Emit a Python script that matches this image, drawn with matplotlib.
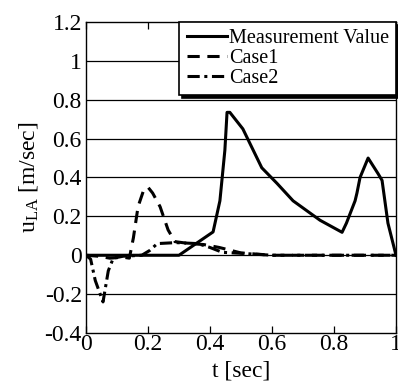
import matplotlib
matplotlib.use("Agg")
import matplotlib.pyplot as plt
import numpy as np

plt.rcParams['font.family'] = ['Liberation Serif', 'DejaVu Serif']
plt.rcParams['mathtext.fontset'] = 'custom'
plt.rcParams['mathtext.rm'] = 'Liberation Serif'
plt.rcParams['mathtext.it'] = 'Liberation Serif:italic'

t_meas = [0.0, 0.30, 0.41, 0.432, 0.448, 0.455, 0.464, 0.506, 0.567, 0.616, 0.668, 0.755, 0.826,
          0.84, 0.868, 0.874, 0.884, 0.91, 0.942, 0.955, 0.974, 1.0]
v_meas = [0.0, 0.0, 0.12, 0.28, 0.54, 0.735, 0.735, 0.65, 0.45, 0.37, 0.28, 0.18, 0.118,
          0.165, 0.28, 0.32, 0.40, 0.50, 0.42, 0.385, 0.165, 0.0]

t_case1 = [0.0, 0.04, 0.077, 0.12, 0.14, 0.153, 0.168, 0.185, 0.2, 0.215, 0.239, 0.265, 0.287,
           0.335, 0.38, 0.43, 0.5, 0.6, 1.0]
v_case1 = [0.0, -0.005, -0.015, -0.01, -0.015, 0.09, 0.25, 0.33, 0.35, 0.32, 0.25, 0.13, 0.07,
           0.06, 0.055, 0.04, 0.012, 0.0, 0.0]

t_case2 = [0.0, 0.015, 0.03, 0.055, 0.072, 0.088, 0.12, 0.18, 0.206, 0.23, 0.29, 0.36, 0.4,
           0.44, 0.5, 0.6, 1.0]
v_case2 = [0.0, -0.02, -0.13, -0.24, -0.08, -0.015, -0.005, 0.0, 0.025, 0.06, 0.065, 0.06, 0.04,
           0.015, 0.01, 0.0, 0.0]

labels = ['Measurement Value', 'Case1', 'Case2']
xticks = [0, 0.2, 0.4, 0.6, 0.8, 1]
xtick_labels = ['0', '0.2', '0.4', '0.6', '0.8', '1']
yticks = [-0.4, -0.2, 0, 0.2, 0.4, 0.6, 0.8, 1, 1.2]
ytick_labels = ['-0.4', '-0.2', '0', '0.2', '0.4', '0.6', '0.8', '1', '1.2']

fig = plt.figure(figsize=(3.98, 3.85), dpi=100)
ax = fig.add_axes([0.216, 0.135, 0.779, 0.808])

for y in yticks[1:-1]:
    ax.axhline(y, color='black', lw=0.9, zorder=1)

ax.plot(t_meas, v_meas, color='black', lw=2.2, ls='-', label=labels[0], zorder=3)
ax.plot(t_case1, v_case1, color='black', lw=2.2, ls=(0, (4, 2.5)), label=labels[1], zorder=3)
ax.plot(t_case2, v_case2, color='black', lw=2.2, ls=(0, (4, 1.5, 1, 1.5)), label=labels[2], zorder=3)

ax.set_xlim(0, 1)
ax.set_ylim(-0.4, 1.2)
ax.set_xticks(xticks)
ax.set_xticklabels(xtick_labels)
ax.set_yticks(yticks)
ax.set_yticklabels(ytick_labels)
ax.tick_params(axis='x', direction='in', top=True, bottom=True, length=5, width=0.9,
               labelsize=17, pad=1)
ax.tick_params(axis='y', direction='in', left=False, right=False, length=0,
               labelsize=17, pad=3)
for s in ax.spines.values():
    s.set_linewidth(1.0)

ax.set_xlabel('t [sec]', fontsize=17, labelpad=4)
ax.set_ylabel(r'u$_{\mathrm{LA}}$ [m/sec]', fontsize=17, labelpad=3)

leg = ax.legend(loc='upper right', fontsize=14.5, frameon=True, fancybox=False,
                borderaxespad=0, handlelength=2.0, handletextpad=0.1,
                labelspacing=0.05, borderpad=0.35,
                shadow={'color': 'black', 'alpha': 1})
leg.get_frame().set_edgecolor('black')
leg.get_frame().set_linewidth(1.2)
leg.get_frame().set_alpha(1)

fig.savefig('out.png', dpi=100)
